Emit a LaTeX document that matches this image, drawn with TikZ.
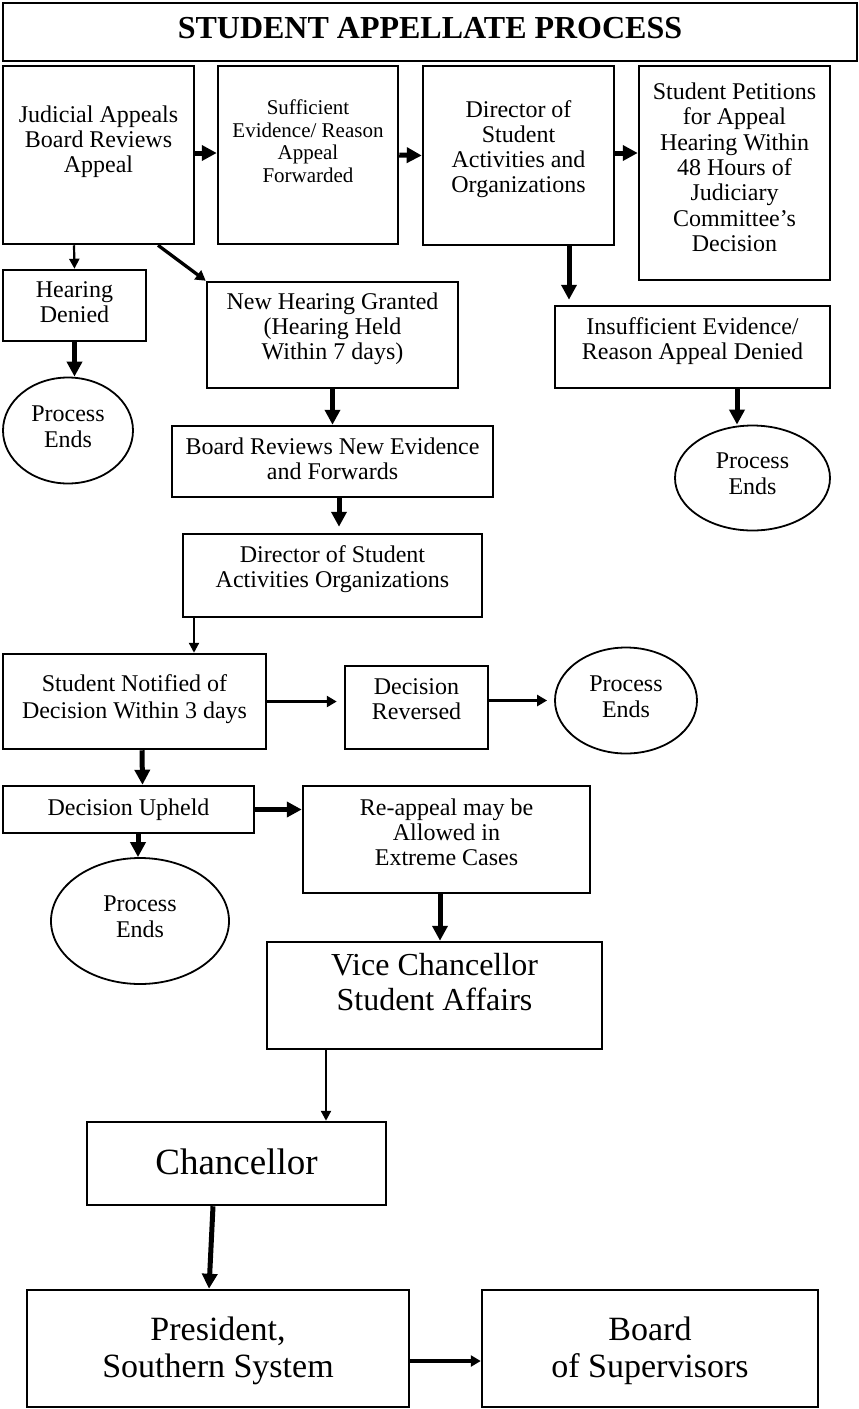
\documentclass[tikz,border=0pt]{standalone}
\usepackage{fontspec}
\setmainfont{Liberation Serif}
\usetikzlibrary{arrows.meta,shapes.geometric,calc}
\begin{document}
\begin{tikzpicture}[x=1pt,y=-1pt,
  box/.style={draw, line width=2.5pt, inner sep=0pt},
  txt/.style={inner sep=0pt, align=center, font=\fontsize{24}{25}\selectfont,
    execute at begin node=\strut, execute at end node=\strut},
  ellip/.style={draw, ellipse, line width=1.8pt, inner sep=0pt, align=center,
    font=\fontsize{24}{26}\selectfont, execute at begin node=\strut, execute at end node=\strut},
  thickarr/.style={line width=5pt, -{Triangle[length=15pt,width=15pt]}},
  medarr/.style={line width=3.3pt, -{Triangle[length=10pt,width=11pt]}},
  thinarr/.style={line width=2.2pt, -{Triangle[length=10pt,width=10pt]}}]
\useasboundingbox (0,0) rectangle (859,1409);

% title
\node[box, minimum width=854pt, minimum height=58pt] (T) at (430,32) {};
\node[font=\fontsize{32}{34}\selectfont\bfseries, anchor=base, inner sep=0pt] (Tt) at (430,38) {STUDENT APPELLATE PROCESS};

% top row
\node[box, minimum width=191pt, minimum height=178pt] (A) at (98.5,155) {};
\node[txt] (At) at (98.5,143) {Judicial Appeals\\Board Reviews\\Appeal};
\node[box, minimum width=180pt, minimum height=178pt] (B) at (308,155) {};
\node[txt, font=\fontsize{21}{22.5}\selectfont] (Bt) at (308,144.5) {Sufficient\\Evidence/ Reason\\Appeal\\Forwarded};
\node[box, minimum width=191pt, minimum height=179pt] (C) at (518.5,155.5) {};
\node[txt] (Ct) at (518.5,150.5) {Director of\\Student\\Activities and\\Organizations};
\node[box, minimum width=191pt, minimum height=214pt] (D) at (734.5,173) {};
\node[txt, font=\fontsize{24}{25.3}\selectfont] (Dt) at (734.5,171) {Student Petitions\\for Appeal\\Hearing Within\\48 Hours of\\Judiciary\\Committee’s\\Decision};

% second level
\node[box, minimum width=143pt, minimum height=71pt] (HD) at (74.5,305.5) {};
\node[txt] (HDt) at (74.5,305.5) {Hearing\\Denied};
\node[box, minimum width=251pt, minimum height=106pt] (NHG) at (332.5,335) {};
\node[txt] (NHGt) at (332.5,330) {New Hearing Granted\\(Hearing Held\\Within 7 days)};
\node[box, minimum width=275pt, minimum height=82pt] (IE) at (692.5,347) {};
\node[txt] (IEt) at (692.5,342.5) {Insufficient Evidence/\\Reason Appeal Denied};
\node[ellip, minimum width=130pt, minimum height=106pt] (PEL) at (68,430.5) {Process\\Ends};
\node[ellip, minimum width=155pt, minimum height=105pt] (PER) at (752.5,478) {Process\\Ends};
\node[box, minimum width=321pt, minimum height=71pt] (BRNE) at (332.5,461.5) {};
\node[txt] (BRNEt) at (332.5,462.5) {Board Reviews New Evidence\\and Forwards};
\node[box, minimum width=299pt, minimum height=83pt] (DSAO) at (332.5,575.5) {};
\node[txt] (DSAOt) at (332.5,570) {Director of Student\\Activities Organizations};

% notification
\node[box, minimum width=263pt, minimum height=95pt] (SN) at (134.5,701.5) {};
\node[txt, font=\fontsize{24}{27}\selectfont] (SNt) at (134.5,701) {Student Notified of\\Decision Within 3 days};
\node[box, minimum width=143pt, minimum height=83pt] (DR) at (416.5,707.5) {};
\node[txt] (DRt) at (416.5,702.5) {Decision\\Reversed};
\node[ellip, minimum width=142pt, minimum height=106pt] (PE2) at (626,700.5) {Process\\Ends};
\node[box, minimum width=251pt, minimum height=47pt] (DU) at (128.5,809.5) {};
\node[inner sep=0pt, font=\fontsize{24}{25}\selectfont, anchor=base] (DUt) at (128.5,815) {Decision Upheld};
\node[box, minimum width=287pt, minimum height=107pt] (RA) at (446.5,839.5) {};
\node[txt] (RAt) at (446.5,835.5) {Re-appeal may be\\Allowed in\\Extreme Cases};
\node[ellip, minimum width=178pt, minimum height=126pt] (PE3) at (140,921) {Process\\Ends};

% upper administration
\node[box, minimum width=335pt, minimum height=107pt] (VC) at (434.5,995.5) {};
\node[txt, font=\fontsize{32}{35}\selectfont] (VCt) at (434.5,987.5) {Vice Chancellor\\Student Affairs};
\node[box, minimum width=299pt, minimum height=83pt] (Ch) at (236.5,1163.5) {};
\node[inner sep=0pt, font=\fontsize{37}{40}\selectfont, anchor=base] (Cht) at (236.5,1174) {Chancellor};
\node[box, minimum width=382pt, minimum height=117pt] (P) at (218,1348.5) {};
\node[txt, font=\fontsize{34}{37}\selectfont] (Pt) at (218,1353) {President,\\Southern System};
\node[box, minimum width=336pt, minimum height=117pt] (Bo) at (650,1348.5) {};
\node[txt, font=\fontsize{34}{37}\selectfont] (Bot) at (650,1352.5) {Board\\of Supervisors};

% connectors
\coordinate (cd) at ($(C.east)+(0,2.5pt)$);
\draw[thickarr] ($(A.east)+(0,2pt)$) -- ($(B.west)+(0,2pt)$);
\draw[thickarr] (B.east) -- (C.west);
\draw[thickarr] (cd) -- (cd -| D.west);
\draw[thinarr] ($(A.south)+(-24.5pt,0)$) -- (HD.north);
\draw[medarr] ($(A.south)+(59.5pt,0)$) -- (NHG.north west);
\draw[thickarr] (HD.south) -- ($(PEL.north)+(6.5pt,0)$);
\draw[thickarr, shorten >=5pt] ($(C.south)+(50.5pt,0)$) -- ($(IE.north)+(-123.5pt,0)$);
\draw[thickarr] ($(IE.south)+(44.5pt,0)$) -- ($(PER.north)+(-15.5pt,0)$);
\draw[thickarr] (NHG.south) -- (BRNE.north);
\draw[thickarr, shorten >=6pt] ($(BRNE.south)+(6.5pt,0)$) -- ($(DSAO.north)+(6.5pt,0)$);
\draw[thinarr] ($(DSAO.south)+(-138.5pt,0)$) -- ($(SN.north)+(59.5pt,0)$);
\draw[medarr, shorten >=7pt] (SN.east) -- (SN.east -| DR.west);
\draw[medarr, shorten >=7pt] (PE2.west -| DR.east) -- (PE2.west);
\draw[thickarr] ($(SN.south)+(7.5pt,0)$) -- ($(DU.north)+(14pt,0)$);
\draw[thickarr] (DU.east) -- (DU.east -| RA.west);
\draw[thickarr] ($(DU.south)+(9.5pt,0)$) -- ($(PE3.north)+(-2pt,0)$);
\draw[thickarr] ($(RA.south)+(-6.5pt,0)$) -- ($(VC.north)+(5.5pt,0)$);
\draw[thinarr] ($(VC.south)+(-108.5pt,0)$) -- ($(Ch.north)+(89.5pt,0)$);
\draw[thickarr] ($(Ch.south)+(-23.5pt,0)$) -- ($(P.north)+(-9pt,0)$);
\draw[medarr] ($(P.east)+(0,-12.5pt)$) -- ($(Bo.west)+(0,-12.5pt)$);
\end{tikzpicture}
\end{document}
